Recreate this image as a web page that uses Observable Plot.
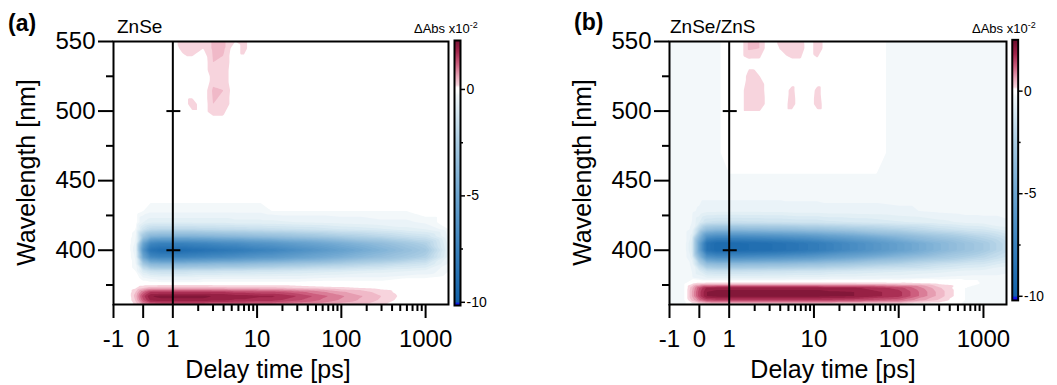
<!DOCTYPE html>
<html>
<head>
<meta charset="utf-8">
<script src="https://cdn.jsdelivr.net/npm/d3@7"></script>
<script src="https://cdn.jsdelivr.net/npm/@observablehq/plot@0.6"></script>
<style>
  html, body { margin: 0; padding: 0; background: #ffffff; }
  #root { position: relative; width: 1057px; height: 385px; overflow: hidden; font-family: "Liberation Sans", Arial, sans-serif; color: #000; }
  .abs { position: absolute; white-space: nowrap; }
  .panel-tag { font-weight: bold; font-size: 23px; line-height: 23px; }
  .sample { font-size: 19px; line-height: 19px; }
  .cbtitle { font-size: 13px; line-height: 13px; }
  .cbtitle span { font-size: 9px; position: relative; top: -5px; }
  .ytitle { font-size: 25px; line-height: 25px; width: 300px; text-align: center; transform: rotate(-90deg); }
  .xtitle { font-size: 25px; line-height: 25px; width: 300px; text-align: center; }
</style>
</head>
<body>
<div id="root"></div>
<script>
// ---------- data ----------
const delayTimes = [-1, -0.5, -0.25, 0, 0.25, 0.6, 1, 1.3, 1.7, 2.3, 3, 4, 5.5, 7, 8.5, 11, 15, 30, 100, 300, 600, 1000, 1870];
const wavelengths = [361, 364, 367, 370, 373, 376, 380, 385, 390, 395, 400, 405, 410, 415, 420, 428, 440, 470, 495, 505, 515, 525, 535, 545, 550];

// ΔAbs ×10^-2, rows follow `wavelengths`, columns follow `delayTimes`
const dAbsZnSe = [
  [0, 0, 0.3, 0.9, 1.2, 1.3, 1.3, 1.3, 1.3, 1.3, 1.2, 1.2, 1.2, 1.2, 1.1, 1.1, 1.1, 0.9, 0.55, 0.25, 0, 0, 0],
  [0, 0, 0.5, 1.4, 2.0, 2.1, 2.1, 2.1, 2.1, 2.1, 2.0, 2.0, 1.9, 1.9, 1.85, 1.8, 1.8, 1.5, 0.9, 0.4, 0, 0, 0],
  [0, 0, 0.6, 1.6, 2.2, 2.3, 2.3, 2.3, 2.3, 2.3, 2.2, 2.2, 2.1, 2.1, 2.05, 2.0, 2.0, 1.7, 1.0, 0.45, 0.05, 0, 0],
  [0, 0, 0.45, 1.2, 1.7, 1.7, 1.7, 1.7, 1.7, 1.7, 1.7, 1.7, 1.6, 1.6, 1.55, 1.5, 1.5, 1.3, 0.75, 0.35, 0, 0, 0],
  [0, 0, 0.15, 0.4, 0.55, 0.6, 0.6, 0.6, 0.6, 0.6, 0.55, 0.55, 0.5, 0.5, 0.5, 0.5, 0.5, 0.4, 0.25, 0.1, 0, 0, 0],
  [0, 0, 0, 0, 0, 0, 0, 0, 0, 0, 0, 0, 0, 0, 0, 0, 0, 0, 0, 0, 0, 0, 0],
  [0, 0, 0, -0.2, -0.3, -0.4, -0.4, -0.4, -0.4, -0.3, -0.3, -0.3, -0.3, -0.3, -0.3, -0.3, -0.3, -0.3, -0.2, -0.2, -0.1, -0.1, 0],
  [0, 0, -0.1, -0.9, -1.3, -1.4, -1.4, -1.4, -1.3, -1.3, -1.3, -1.2, -1.2, -1.2, -1.15, -1.1, -1.1, -1.0, -0.8, -0.6, -0.5, -0.4, -0.1],
  [0, 0, -0.2, -2.5, -3.6, -3.8, -3.8, -3.8, -3.7, -3.6, -3.5, -3.4, -3.4, -3.3, -3.2, -3.1, -3.0, -2.7, -2.2, -1.7, -1.3, -1.1, -0.2],
  [0, 0, -0.3, -4.8, -6.8, -7.2, -7.2, -7.2, -7.0, -6.9, -6.7, -6.6, -6.4, -6.2, -6.1, -5.9, -5.8, -5.2, -4.2, -3.2, -2.6, -2.1, -0.4],
  [0, 0, -0.4, -6.0, -8.5, -9.0, -9.0, -9.0, -8.8, -8.6, -8.4, -8.2, -8.0, -7.8, -7.6, -7.4, -7.2, -6.5, -5.2, -4.0, -3.2, -2.6, -0.5],
  [0, 0, -0.3, -4.9, -7.0, -7.4, -7.4, -7.4, -7.2, -7.1, -6.9, -6.7, -6.6, -6.4, -6.2, -6.1, -5.9, -5.3, -4.3, -3.3, -2.6, -2.1, -0.4],
  [0, 0, -0.2, -2.7, -3.8, -4.0, -4.0, -4.0, -4.0, -3.9, -3.8, -3.7, -3.6, -3.5, -3.4, -3.3, -3.2, -2.9, -2.3, -1.8, -1.4, -1.2, -0.2],
  [0, 0, -0.1, -1.2, -1.7, -1.8, -1.8, -1.8, -1.8, -1.7, -1.7, -1.6, -1.6, -1.6, -1.5, -1.5, -1.4, -1.3, -1.0, -0.8, -0.6, -0.5, -0.1],
  [0, 0, 0, -0.5, -0.7, -0.7, -0.7, -0.7, -0.7, -0.7, -0.7, -0.7, -0.6, -0.6, -0.6, -0.6, -0.6, -0.5, -0.4, -0.3, -0.3, -0.2, 0],
  [0, 0, 0, -0.1, -0.2, -0.2, -0.2, -0.2, -0.2, -0.2, -0.2, -0.2, -0.2, -0.2, -0.2, -0.2, -0.1, -0.1, -0.1, -0.1, -0.1, 0, 0],
  [0, 0, 0, 0, 0, 0, 0, 0, 0, 0, 0, 0, 0, 0, 0, 0, 0, 0, 0, 0, 0, 0, 0],
  [0, 0, 0, 0, 0, 0, 0, 0, 0, 0, 0, 0, 0, 0, 0, 0, 0, 0, 0, 0, 0, 0, 0],
  [0, 0, 0, 0, 0, 0, 0, 0, 0, 0, 0.15, 0.15, 0, 0, 0, 0, 0, 0, 0, 0, 0, 0, 0],
  [0, 0, 0, 0, 0, 0, 0, 0, 0.35, 0, 0.45, 0.4, 0, 0, 0, 0, 0, 0, 0, 0, 0, 0, 0],
  [0, 0, 0, 0, 0, 0, 0, 0, 0, 0, 0.5, 0.45, 0, 0, 0, 0, 0, 0, 0, 0, 0, 0, 0],
  [0, 0, 0, 0, 0, 0, 0, 0, 0, 0, 0.3, 0.35, 0, 0, 0, 0, 0, 0, 0, 0, 0, 0, 0],
  [0, 0, 0, 0, 0, 0, 0, 0, 0, 0, 0.45, 0.4, 0, 0, 0, 0, 0, 0, 0, 0, 0, 0, 0],
  [0, 0, 0, 0, 0, 0, 0, 0.3, 0.45, 0.2, 0.5, 0.5, 0, 0.35, 0, 0, 0, 0, 0, 0, 0, 0, 0],
  [0, 0, 0, 0, 0, 0, 0, 0.4, 0.45, 0.3, 0.5, 0.5, 0.2, 0.35, 0, 0, 0, 0, 0, 0, 0, 0, 0]
];

const dAbsZnSeZnS = [
  [-0.12, -0.12, 0, 0.1, 0.15, 0.15, 0.15, 0.15, 0.15, 0.15, 0.15, 0.15, 0.15, 0.15, 0.15, 0.15, 0.15, 0.15, 0.1, 0, -0.12, -0.12, -0.12],
  [-0.12, -0.12, 0.5, 1.1, 1.5, 1.6, 1.6, 1.6, 1.6, 1.6, 1.6, 1.6, 1.6, 1.6, 1.6, 1.6, 1.6, 1.5, 1.25, 0.4, -0.1, -0.12, -0.12],
  [-0.12, -0.12, 0.7, 1.6, 2.2, 2.3, 2.3, 2.3, 2.3, 2.3, 2.3, 2.3, 2.3, 2.3, 2.3, 2.3, 2.25, 2.2, 1.8, 0.6, -0.1, -0.12, -0.12],
  [-0.12, -0.12, 0.7, 1.6, 2.2, 2.3, 2.3, 2.3, 2.3, 2.3, 2.3, 2.3, 2.3, 2.3, 2.3, 2.3, 2.25, 2.2, 1.8, 0.6, -0.1, -0.12, -0.12],
  [-0.12, -0.12, 0.6, 1.45, 2.0, 2.1, 2.1, 2.1, 2.1, 2.1, 2.1, 2.1, 2.1, 2.1, 2.1, 2.1, 2.0, 2.0, 1.6, 0.5, -0.1, -0.12, -0.12],
  [-0.12, -0.12, 0.15, 0.3, 0.35, 0.35, 0.35, 0.35, 0.35, 0.35, 0.35, 0.35, 0.35, 0.35, 0.35, 0.35, 0.35, 0.33, 0.3, 0.15, 0, -0.12, -0.12],
  [-0.12, -0.12, -0.2, -0.3, -0.45, -0.45, -0.45, -0.45, -0.45, -0.45, -0.45, -0.45, -0.4, -0.4, -0.4, -0.4, -0.35, -0.35, -0.3, -0.2, -0.15, -0.15, -0.15],
  [-0.12, -0.12, -0.25, -0.75, -1.3, -1.4, -1.4, -1.4, -1.35, -1.35, -1.3, -1.3, -1.25, -1.2, -1.2, -1.2, -1.1, -1.0, -0.8, -0.6, -0.45, -0.4, -0.3],
  [-0.12, -0.12, -0.3, -1.9, -3.2, -3.5, -3.5, -3.5, -3.4, -3.4, -3.3, -3.3, -3.2, -3.1, -3.0, -3.0, -2.8, -2.5, -2.0, -1.4, -1.1, -1.0, -0.6],
  [-0.12, -0.12, -0.6, -3.6, -6.1, -6.6, -6.6, -6.6, -6.5, -6.4, -6.3, -6.2, -6.0, -5.9, -5.8, -5.6, -5.3, -4.8, -3.7, -2.7, -2.2, -1.8, -1.2],
  [-0.12, -0.12, -0.8, -5.0, -8.5, -9.2, -9.2, -9.1, -9.0, -8.9, -8.8, -8.6, -8.4, -8.2, -8.0, -7.8, -7.4, -6.6, -5.2, -3.8, -3.0, -2.5, -1.6],
  [-0.12, -0.12, -0.8, -5.0, -8.5, -9.2, -9.2, -9.1, -9.0, -8.9, -8.8, -8.6, -8.4, -8.2, -8.0, -7.8, -7.4, -6.6, -5.2, -3.8, -3.0, -2.5, -1.6],
  [-0.12, -0.12, -0.6, -3.6, -6.1, -6.6, -6.6, -6.6, -6.5, -6.4, -6.3, -6.2, -6.0, -5.9, -5.8, -5.6, -5.3, -4.8, -3.7, -2.7, -2.2, -1.8, -1.2],
  [-0.12, -0.12, -0.3, -1.9, -3.2, -3.5, -3.5, -3.5, -3.4, -3.4, -3.3, -3.3, -3.2, -3.1, -3.0, -3.0, -2.8, -2.5, -2.0, -1.4, -1.1, -1.0, -0.6],
  [-0.12, -0.12, -0.25, -0.75, -1.3, -1.4, -1.4, -1.4, -1.35, -1.35, -1.3, -1.3, -1.25, -1.2, -1.2, -1.2, -1.1, -1.0, -0.8, -0.6, -0.45, -0.4, -0.3],
  [-0.12, -0.12, -0.2, -0.3, -0.45, -0.45, -0.45, -0.45, -0.45, -0.45, -0.45, -0.45, -0.4, -0.4, -0.4, -0.4, -0.35, -0.35, -0.3, -0.2, -0.15, -0.15, -0.15],
  [-0.12, -0.12, -0.12, -0.15, -0.15, -0.15, -0.15, -0.15, -0.15, -0.15, -0.15, -0.15, -0.15, -0.15, -0.15, -0.15, -0.15, -0.15, -0.15, -0.15, -0.15, -0.15, -0.15],
  [-0.12, -0.12, -0.12, -0.12, -0.12, -0.12, -0.05, -0.05, -0.05, -0.05, -0.05, -0.05, -0.05, -0.05, -0.05, -0.05, -0.05, -0.05, -0.12, -0.12, -0.12, -0.12, -0.12],
  [-0.12, -0.12, -0.12, -0.12, -0.12, -0.12, -0.05, -0.05, -0.05, -0.05, -0.05, -0.05, -0.05, -0.05, -0.05, -0.05, -0.05, -0.05, -0.12, -0.12, -0.12, -0.12, -0.12],
  [-0.12, -0.12, -0.12, -0.12, -0.12, -0.12, -0.05, -0.05, 0.45, 0.45, -0.05, -0.05, 0.35, -0.05, -0.05, 0.35, -0.05, -0.05, -0.12, -0.12, -0.12, -0.12, -0.12],
  [-0.12, -0.12, -0.12, -0.12, -0.12, -0.12, -0.05, -0.05, 0.45, 0.4, -0.05, -0.05, 0.3, -0.05, -0.05, 0.3, -0.05, -0.05, -0.12, -0.12, -0.12, -0.12, -0.12],
  [-0.12, -0.12, -0.12, -0.12, -0.12, -0.12, -0.05, -0.05, 0.3, 0.2, -0.05, -0.05, -0.05, -0.05, -0.05, -0.05, -0.05, -0.05, -0.12, -0.12, -0.12, -0.12, -0.12],
  [-0.12, -0.12, -0.12, -0.12, -0.12, -0.12, -0.05, -0.05, 0.1, 0.1, -0.05, -0.05, 0.1, 0.1, -0.05, 0.1, -0.05, -0.05, -0.12, -0.12, -0.12, -0.12, -0.12],
  [-0.12, -0.12, -0.12, -0.12, -0.12, -0.12, -0.05, -0.05, 0.5, 0.45, -0.05, 0.22, 0.45, 0.45, -0.05, 0.4, -0.05, -0.05, -0.12, -0.12, -0.12, -0.12, -0.12],
  [-0.12, -0.12, -0.12, -0.12, -0.12, -0.12, -0.05, -0.05, 0.5, 0.45, -0.05, 0.3, 0.4, 0.4, -0.05, 0.4, -0.05, -0.05, -0.12, -0.12, -0.12, -0.12, -0.12]
];

// tick labels
const xMajorTicks = [-1, 0, 1, 10, 100, 1000];
const xMinorTicks = [2, 3, 4, 5, 6, 7, 8, 9, 20, 30, 40, 50, 60, 70, 80, 90, 200, 300, 400, 500, 600, 700, 800, 900];
const yMajorTicks = [400, 450, 500, 550];
const yMinorTicks = [375, 425, 475, 525];
const breakTicks = [400, 500];
const cbMajorTicks = [-10, -5, 0];
const cbMinorTicks = [-7.5, -2.5];
const sampleNames = ["ZnSe", "ZnSe/ZnS"];
const panelTags = ["(a)", "(b)"];

// ---------- styles ----------
const FONT = '"Liberation Sans", Arial, sans-serif';
const colorDomain = [-10.3, -10.05, -10, -7.5, -5, -2.5, -1, -0.25, -0.1, 0.1, 0.2, 0.6, 1.2, 1.8, 2.5];
const colorRange = ["#1010f0", "#1010f0", "#1262a9", "#3a82bd", "#6ca5d0", "#a9cce3", "#d9eaf3", "#f3f8fa",
                    "#ffffff", "#ffffff", "#f7d4dd", "#eba9bb", "#cd5e7e", "#a3254b", "#6b0c2c"];
const colorOpts = {type: "linear", domain: colorDomain, range: colorRange, interpolate: "rgb", clamp: true};
const thresholds = [...d3.range(-10, -0.2, 0.25), -0.1, ...d3.range(0.2, 2.51, 0.25)];

// split delay axis: linear up to 1 ps, logarithmic beyond
const K = 2.84;
const toAxis = t => t <= 1 ? t : 1 + K * Math.log10(t);
const fromAxis = u => u <= 1 ? u : Math.pow(10, (u - 1) / K);
const tMin = delayTimes[0], tMax = delayTimes[delayTimes.length - 1];

function mainPlot(values, width) {
  const table = [];
  wavelengths.forEach((nm, i) => delayTimes.forEach((t, j) => table.push({u: toAxis(t), nm, v: values[i][j]})));
  return Plot.plot({
    width, height: 385,
    marginLeft: 113, marginRight: 4, marginTop: 41, marginBottom: 81,
    x: {domain: [toAxis(tMin), toAxis(tMax)], label: null},
    y: {domain: [wavelengths[0], wavelengths[wavelengths.length - 1]], label: null},
    color: colorOpts,
    style: {background: "transparent", fontFamily: FONT, color: "black", overflow: "visible"},
    marks: [
      Plot.contour(table, {x: "u", y: "nm", fill: "v", interpolate: "barycentric", thresholds, pixelSize: 1, stroke: "none"}),
      Plot.ruleX([toAxis(1)], {stroke: "black", strokeWidth: 2}),
      Plot.ruleY(breakTicks, {x1: toAxis(1) - 0.2, x2: toAxis(1) + 0.27, stroke: "black", strokeWidth: 2}),
      Plot.frame({stroke: "black", strokeWidth: 2}),
      Plot.axisX(xMajorTicks.map(toAxis), {tickSize: 14, tickPadding: 11, fontSize: 24, stroke: "black", fill: "black", strokeWidth: 2,
        tickFormat: d => String(Math.round(fromAxis(d))), label: null}),
      Plot.axisX(xMinorTicks.map(toAxis), {tickSize: 7, stroke: "black", strokeWidth: 2, tickFormat: () => "", label: null}),
      Plot.axisY(yMajorTicks, {tickSize: 15, tickPadding: 3, fontSize: 24, stroke: "black", fill: "black", strokeWidth: 2,
        tickFormat: d => String(d), label: null}),
      Plot.axisY(yMinorTicks, {tickSize: 7, stroke: "black", strokeWidth: 2, tickFormat: () => "", label: null})
    ]
  });
}

function colorBar(domain) {
  return Plot.plot({
    width: 60, height: 385,
    marginLeft: 14, marginRight: 40, marginTop: 40, marginBottom: 80,
    x: {domain: [0, 1], axis: null},
    y: {domain, label: null},
    color: colorOpts,
    style: {background: "transparent", fontFamily: FONT, color: "black", overflow: "visible"},
    marks: [
      Plot.raster({x1: 0, x2: 1, y1: domain[0], y2: domain[1], fill: (x, y) => y, pixelSize: 1}),
      Plot.frame({stroke: "black", strokeWidth: 2}),
      Plot.axisY(cbMajorTicks, {anchor: "right", tickSize: 4, tickPadding: 2, fontSize: 14, stroke: "black", fill: "black", strokeWidth: 1.5,
        tickFormat: d => String(d), label: null}),
      Plot.axisY(cbMinorTicks, {anchor: "right", tickSize: 2, stroke: "black", strokeWidth: 1.5, tickFormat: () => "", label: null})
    ]
  });
}

const root = document.getElementById("root");
function place(node, left, top, cls) {
  const div = document.createElement("div");
  div.className = "abs" + (cls ? " " + cls : "");
  div.style.left = left + "px";
  div.style.top = top + "px";
  if (typeof node === "string") div.innerHTML = node; else div.appendChild(node);
  root.appendChild(div);
  return div;
}

// panel (a)
place(mainPlot(dAbsZnSe, 452), 0, 0);
place(colorBar([-10.15, 2.3]), 440, 0);
// panel (b)
place(mainPlot(dAbsZnSeZnS, 454), 556, 0);
place(colorBar([-10.2, 2.5]), 998, 0);

// texts
place(panelTags[0], 8, 12, "panel-tag");
place(panelTags[1], 574, 11, "panel-tag");
place(sampleNames[0], 117, 17, "sample");
place(sampleNames[1], 670, 17, "sample");
place('ΔAbs x10<span>-2</span>', 414, 22, "cbtitle");
place('ΔAbs x10<span>-2</span>', 972, 22, "cbtitle");
place("Wavelength [nm]", 26 - 150, 172 - 12.5, "ytitle");
place("Wavelength [nm]", 582 - 150, 172 - 12.5, "ytitle");
place("Delay time [ps]", 268 - 150, 357, "xtitle");
place("Delay time [ps]", 833 - 150, 357, "xtitle");
</script>
</body>
</html>
